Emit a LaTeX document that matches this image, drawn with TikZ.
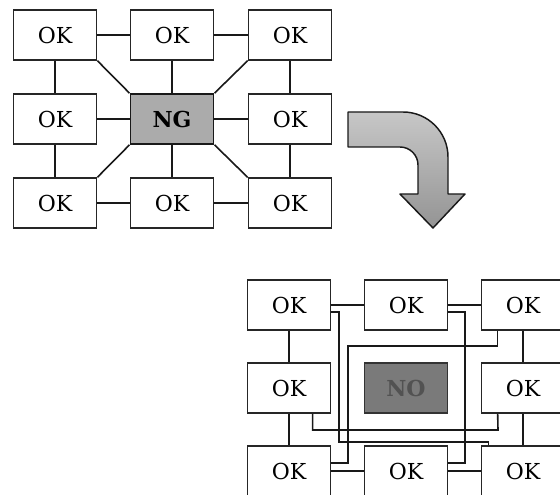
\documentclass[tikz,border=0pt]{standalone}
\usepackage{fontspec}
\setmainfont{DejaVu Serif}
\usetikzlibrary{calc}
\begin{document}
\begin{tikzpicture}[x=0.75pt,y=-0.75pt,
  box/.style={draw=black!85,line width=1pt,fill=white,minimum width=62.5pt,minimum height=37.5pt,inner sep=0pt,font=\fontsize{16.5}{18}\selectfont},
  ngbox/.style={box,fill=black!33,draw=black!90,line width=1.2pt,font=\fontsize{16.5}{18}\selectfont\bfseries},
  nobox/.style={box,fill=black!52,draw=black!80,text=black!68,font=\fontsize{16.5}{18}\selectfont\bfseries},
  link/.style={draw=black!90,line width=1.2pt},
  wire/.style={draw=black!90,line width=1.2pt},
  bigarrow/.style={draw=black!90,line width=1.1pt,top color=black!22,bottom color=black!42,line join=round}]
\useasboundingbox (0,0) rectangle (560,495);
\clip (0,0) rectangle (560,495);
% ---------- top grid ----------
\node[box] (t11) at (55,35) {OK};
\node[box] (t12) at (172,35) {OK};
\node[box] (t13) at (290,35) {OK};
\node[box] (t21) at (55,119) {OK};
\node[ngbox] (ng) at (172,119) {NG};
\node[box] (t23) at (290,119) {OK};
\node[box] (t31) at (55,203) {OK};
\node[box] (t32) at (172,203) {OK};
\node[box] (t33) at (290,203) {OK};
\draw[link] (t11.east) -- (t12.west);
\draw[link] (t12.east) -- (t13.west);
\draw[link] (t21.east) -- (ng.west);
\draw[link] (ng.east) -- (t23.west);
\draw[link] (t31.east) -- (t32.west);
\draw[link] (t32.east) -- (t33.west);
\draw[link] (t11.south) -- (t21.north);
\draw[link] (t21.south) -- (t31.north);
\draw[link] (t12.south) -- (ng.north);
\draw[link] (ng.south) -- (t32.north);
\draw[link] (t13.south) -- (t23.north);
\draw[link] (t23.south) -- (t33.north);
\draw[link] (t11.south east) -- (ng.north west);
\draw[link] (t13.south west) -- (ng.north east);
\draw[link] (t31.north east) -- (ng.south west);
\draw[link] (t33.north west) -- (ng.south east);
% ---------- curved arrow ----------
\path[bigarrow] (348,112) -- (403,112) arc[start angle=-90,end angle=0,radius=45]
  -- (448,194) -- (465,194) -- (433,228) -- (400,194) -- (418,194) -- (418,165)
  arc[start angle=0,end angle=-90,radius=18] -- (348,147) -- cycle;
% ---------- bottom grid ----------
\node[box] (b11) at (289,305) {OK};
\node[box] (b12) at (406,305) {OK};
\node[box] (b13) at (523,305) {OK};
\node[box] (b21) at (289,388) {OK};
\node[nobox] (no) at (406,388) {NO};
\node[box] (b23) at (523,388) {OK};
\node[box] (b31) at (289,471) {OK};
\node[box] (b32) at (406,471) {OK};
\node[box] (b33) at (523,471) {OK};
\draw[link] (b11.east) -- (b12.west);
\draw[link] (b12.east) -- (b13.west);
\draw[link] (b31.east) -- (b32.west);
\draw[link] (b32.east) -- (b33.west);
\draw[link] (b11.south) -- (b21.north);
\draw[link] (b21.south) -- (b31.north);
\draw[link] (b13.south) -- (b23.north);
\draw[link] (b23.south) -- (b33.north);
% bypass wires
\draw[wire] ($(b11.east)+(0,7)$) -| (339,442) -| ($(b33.north west)+(8,0)$);
\draw[wire] ($(b12.east)+(0,7)$) -| (465,463) -- ($(b32.east)+(0,-8)$);
\draw[wire] ($(b13.south west)+(17,0)$) |- (348,346) |- ($(b31.east)+(0,-8)$);
\draw[wire] ($(b21.south west)+(66,0)$) |- (498,430) -- ($(b23.south west)+(17,0)$);
\end{tikzpicture}
\end{document}
